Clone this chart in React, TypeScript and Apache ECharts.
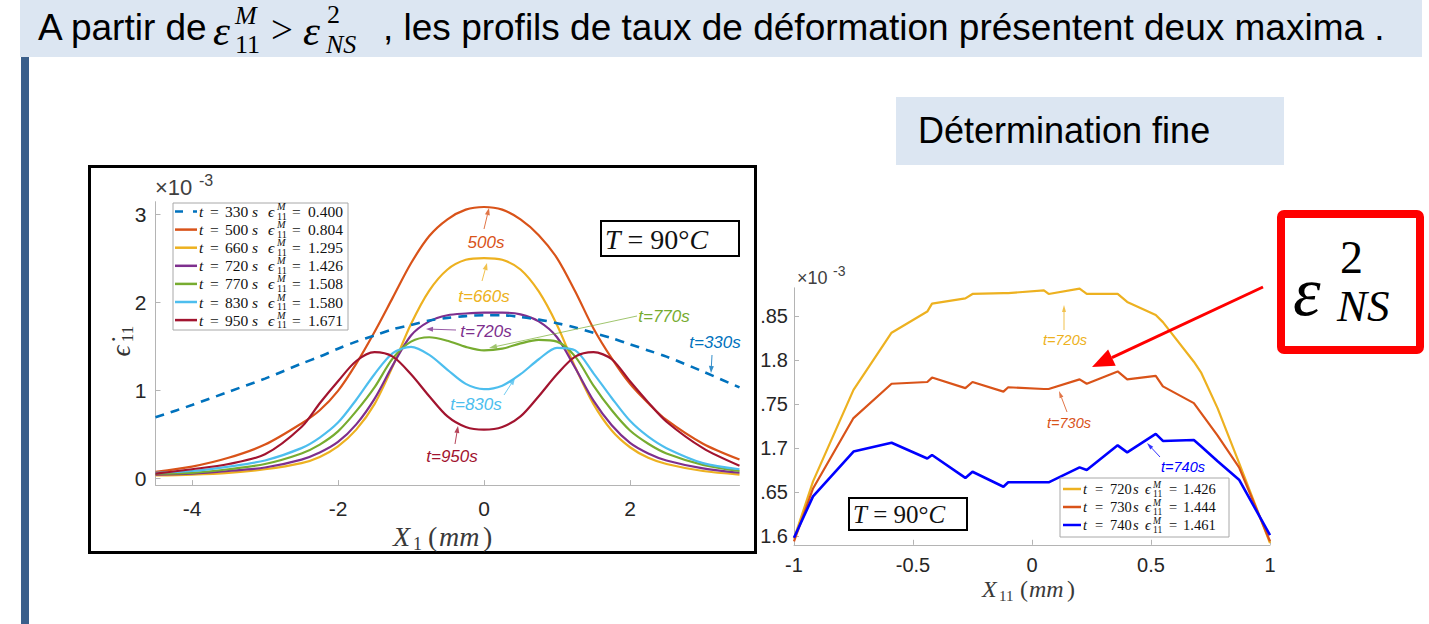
import React, { useEffect, useRef } from "react";
import * as echarts from "echarts";

// ---------- data: left chart (strain-rate profiles, x1e-3) ----------
const profileX = [-4.5, -4, -3.5, -3, -2.5, -2.25, -2, -1.75, -1.5, -1.25, -1, -0.75, -0.5, -0.25, 0, 0.25, 0.5, 0.75, 1, 1.25, 1.5, 1.75, 2, 2.25, 2.5, 3, 3.5];
const rate330 = [0.69, 0.83, 0.98, 1.13, 1.3, 1.38, 1.47, 1.55, 1.62, 1.69, 1.74, 1.79, 1.82, 1.84, 1.85, 1.85, 1.83, 1.8, 1.76, 1.71, 1.65, 1.59, 1.52, 1.45, 1.38, 1.21, 1.03];
const rate500 = [0.07, 0.13, 0.23, 0.38, 0.62, 0.77, 0.99, 1.3, 1.66, 2.05, 2.44, 2.75, 2.94, 3.05, 3.08, 3.05, 2.94, 2.76, 2.5, 2.12, 1.7, 1.36, 1.07, 0.85, 0.66, 0.39, 0.21];
const rate660 = [0.03, 0.04, 0.06, 0.1, 0.17, 0.24, 0.36, 0.55, 0.84, 1.27, 1.75, 2.13, 2.37, 2.48, 2.5, 2.48, 2.37, 2.12, 1.74, 1.26, 0.84, 0.54, 0.35, 0.23, 0.16, 0.08, 0.04];
const rate720 = [0.04, 0.05, 0.08, 0.12, 0.21, 0.29, 0.41, 0.61, 0.9, 1.28, 1.62, 1.78, 1.85, 1.87, 1.88, 1.88, 1.86, 1.78, 1.6, 1.25, 0.88, 0.6, 0.4, 0.28, 0.2, 0.11, 0.06];
const rate770 = [0.05, 0.06, 0.1, 0.16, 0.28, 0.38, 0.53, 0.76, 1.03, 1.36, 1.55, 1.6, 1.56, 1.49, 1.45, 1.47, 1.53, 1.57, 1.55, 1.38, 1.05, 0.77, 0.54, 0.39, 0.28, 0.15, 0.08];
const rate830 = [0.06, 0.08, 0.13, 0.2, 0.34, 0.46, 0.63, 0.89, 1.18, 1.42, 1.49, 1.4, 1.23, 1.07, 1.01, 1.05, 1.18, 1.35, 1.48, 1.45, 1.19, 0.91, 0.65, 0.47, 0.34, 0.17, 0.1];
const rate950 = [0.05, 0.1, 0.16, 0.27, 0.58, 0.85, 1.1, 1.33, 1.43, 1.38, 1.18, 0.93, 0.7, 0.58, 0.55, 0.58, 0.7, 0.93, 1.18, 1.38, 1.43, 1.35, 1.1, 0.86, 0.64, 0.34, 0.14];
const profileTimes = ["330", "500", "660", "720", "770", "830", "950"];
const profileStrain = ["0.400", "0.804", "1.295", "1.426", "1.508", "1.580", "1.671"];
const profileColors = ["#0072BD", "#D95319", "#EDB120", "#7E2F8E", "#77AC30", "#4DBEEE", "#A2142F"];
const profileXTicks = [-4, -2, 0, 2];
const profileYTicks = [0, 1, 2, 3];

// ---------- data: right chart (fine determination) ----------
const fineX = [-1.0, -0.92, -0.75, -0.59, -0.44, -0.42, -0.28, -0.25, -0.12, -0.1, 0.05, 0.07, 0.2, 0.23, 0.36, 0.4, 0.52, 0.55, 0.68, 0.71, 0.78, 0.87, 1.0];
const fine720 = [1.597, 1.662, 1.766, 1.831, 1.855, 1.864, 1.87, 1.875, 1.876, 1.876, 1.879, 1.875, 1.881, 1.875, 1.875, 1.866, 1.851, 1.843, 1.798, 1.786, 1.745, 1.683, 1.592];
const fine730 = [1.594, 1.654, 1.734, 1.773, 1.775, 1.78, 1.768, 1.775, 1.764, 1.769, 1.767, 1.767, 1.778, 1.773, 1.787, 1.778, 1.782, 1.77, 1.751, 1.74, 1.714, 1.678, 1.594];
const fine740 = [1.598, 1.645, 1.696, 1.706, 1.688, 1.692, 1.666, 1.673, 1.656, 1.661, 1.661, 1.661, 1.678, 1.675, 1.703, 1.695, 1.716, 1.708, 1.709, 1.702, 1.685, 1.664, 1.601];
const fineTimes = ["720", "730", "740"];
const fineStrain = ["1.426", "1.444", "1.461"];
const fineColors = ["#EDB120", "#D95319", "#0000FF"];
const fineYTicks = [1.6, 1.65, 1.7, 1.75, 1.8, 1.85];
const fineYTickText = ["1.6", ".65", "1.7", ".75", "1.8", ".85"];

const SERIF = "'Liberation Serif', 'DejaVu Serif', 'Times New Roman', serif";
const SANS = "'Liberation Sans', Arial, Helvetica, sans-serif";
const AXIS_GRAY = "#b4b4b4";
const TXT = "#262626";

type Any = any;

function t(x: number, y: number, text: string, size: number, opts: Any = {}): Any {
  return {
    type: "text",
    x,
    y,
    z: opts.z || 60,
    silent: true,
    style: {
      text,
      fontFamily: opts.family || SERIF,
      fontSize: size,
      fontStyle: opts.italic ? "italic" : "normal",
      fontWeight: opts.bold ? "bold" : "normal",
      fill: opts.color || "#111",
      align: opts.align || "left",
      verticalAlign: "middle",
      rich: opts.rich,
    },
  };
}

function arrow(x1: number, y1: number, x2: number, y2: number, color: string, lw: number, hl: number, hw: number, opacity = 1, z = 55): Any[] {
  const dx = x2 - x1;
  const dy = y2 - y1;
  const L = Math.hypot(dx, dy);
  const ux = dx / L;
  const uy = dy / L;
  const bx = x2 - ux * hl;
  const by = y2 - uy * hl;
  const px = -uy;
  const py = ux;
  return [
    { type: "line", z, silent: true, shape: { x1, y1, x2: bx, y2: by }, style: { stroke: color, lineWidth: lw, opacity } },
    {
      type: "polygon",
      z,
      silent: true,
      shape: { points: [[x2, y2], [bx + (px * hw) / 2, by + (py * hw) / 2], [bx - (px * hw) / 2, by - (py * hw) / 2]] },
      style: { fill: color, opacity },
    },
  ];
}

function legendRows(
  x0: number,
  y0: number,
  dy: number,
  times: string[],
  strains: string[],
  colors: string[],
  size: number,
  off: number[],
  dashedFirst: boolean
): Any[] {
  const els: Any[] = [];
  const small = size * 0.66;
  times.forEach((tm, i) => {
    const y = y0 + i * dy;
    els.push({
      type: "line",
      z: 60,
      silent: true,
      shape: { x1: x0, y1: y, x2: x0 + off[0], y2: y },
      style: { stroke: colors[i], lineWidth: 2.5, lineDash: dashedFirst && i === 0 ? [8, 10] : null },
    });
    els.push(t(x0 + off[1], y, "t", size, { italic: true }));
    els.push(t(x0 + off[2], y, "=", size));
    els.push(t(x0 + off[3], y, tm, size));
    els.push(t(x0 + off[4], y, "s", size, { italic: true }));
    els.push(t(x0 + off[5], y, "ϵ", size, { italic: true }));
    els.push(t(x0 + off[6], y - size * 0.32, "M", small, { italic: true }));
    els.push(t(x0 + off[6], y + size * 0.3, "11", small));
    els.push(t(x0 + off[7], y, "=", size));
    els.push(t(x0 + off[8], y, strains[i], size));
  });
  return els;
}

export default function App() {
  const ref = useRef<HTMLDivElement>(null);

  useEffect(() => {
    document.body.style.margin = "0";
    if (!ref.current) return;
    const chart = echarts.init(ref.current, undefined, { renderer: "svg" });

    const leftSeriesData = [rate330, rate500, rate660, rate720, rate770, rate830, rate950];
    const fineSeriesData = [fine720, fine730, fine740];

    const series: Any[] = [];
    leftSeriesData.forEach((arr, i) => {
      series.push({
        name: "t=" + profileTimes[i] + "s",
        type: "line",
        xAxisIndex: 0,
        yAxisIndex: 0,
        data: profileX.map((x, k) => [x, arr[k]]),
        smooth: 0.3,
        showSymbol: false,
        silent: true,
        z: i === 0 ? 3 : 2,
        lineStyle: { color: profileColors[i], width: i === 0 ? 2.6 : 2.2, type: i === 0 ? [9, 7] : "solid" },
      });
    });
    fineSeriesData.forEach((arr, i) => {
      series.push({
        name: "fine t=" + fineTimes[i] + "s",
        type: "line",
        xAxisIndex: 1,
        yAxisIndex: 1,
        data: fineX.map((x, k) => [x, arr[k]]),
        showSymbol: false,
        silent: true,
        lineStyle: { color: fineColors[i], width: i === 2 ? 2.6 : 2.2 },
      });
    });

    const italicRich = (size: number) => ({ i: { fontStyle: "italic", fontSize: size, fontFamily: SERIF, fill: "#111" } });

    const g: Any[] = [];
    // slide decorations
    g.push({ type: "rect", z: 1, silent: true, shape: { x: 20, y: 0, width: 1402, height: 57 }, style: { fill: "#dce6f2" } });
    g.push({ type: "rect", z: 1, silent: true, shape: { x: 21, y: 57, width: 8, height: 567 }, style: { fill: "#3a5f8b" } });
    // title
    g.push(t(38, 27, "A partir de", 37, { family: SANS, color: "#000" }));
    g.push(t(213, 30, "ε", 43, { italic: true, color: "#000" }));
    g.push(t(235, 15, "M", 26, { italic: true, color: "#000" }));
    g.push(t(235, 44, "11", 26, { color: "#000" }));
    g.push(t(271, 29, ">", 39, { color: "#000" }));
    g.push(t(303, 30, "ε", 43, { italic: true, color: "#000" }));
    g.push(t(327, 14, "2", 26, { color: "#000" }));
    g.push(t(326, 44, "NS", 26, { italic: true, color: "#000" }));
    g.push(t(383, 27, ", les profils de taux de déformation présentent deux maxima .", 37, { family: SANS, color: "#000" }));
    // Détermination fine
    g.push({ type: "rect", z: 1, silent: true, shape: { x: 896, y: 97, width: 388, height: 68 }, style: { fill: "#dce6f2" } });
    g.push(t(918, 130, "Détermination fine", 36, { family: SANS, color: "#000" }));

    // left chart frame
    g.push({ type: "rect", z: 40, silent: true, shape: { x: 89.5, y: 166.5, width: 666, height: 386 }, style: { fill: "none", stroke: "#000", lineWidth: 3 } });
    g.push(t(155, 187, "×10", 22, { family: SANS, color: "#404040" }));
    g.push(t(199, 180, "-3", 16, { family: SANS, color: "#404040" }));
    // y label (rotated)
    g.push({
      type: "group",
      x: 121,
      y: 344,
      rotation: Math.PI / 2,
      z: 60,
      children: [t(-7, 0, "ϵ̇", 27, { italic: true, color: "#333", align: "center" }), t(10, 6, "11", 17, { color: "#333", align: "center" })],
    });
    // x label
    g.push(t(393, 536, "X", 28, { italic: true, color: "#3a3a3a" }));
    g.push(t(413, 544, "1", 18, { color: "#3a3a3a" }));
    g.push(t(428, 536, "(", 28, { color: "#3a3a3a" }));
    g.push(t(439, 536, "mm", 28, { italic: true, color: "#3a3a3a" }));
    g.push(t(483, 536, ")", 28, { color: "#3a3a3a" }));
    // left legend
    g.push({ type: "rect", z: 58, silent: true, shape: { x: 173, y: 203, width: 175, height: 127 }, style: { fill: "#fff", stroke: "#a8a8a8", lineWidth: 1 } });
    g.push(...legendRows(175, 211.5, 18.1, profileTimes, profileStrain, profileColors, 15.5, [22, 24, 35, 50, 77, 93, 102, 117, 133], true));
    // T = 90°C box left
    g.push({ type: "rect", z: 58, silent: true, shape: { x: 601, y: 221, width: 138, height: 35 }, style: { fill: "#fff", stroke: "#000", lineWidth: 2 } });
    g.push(t(605, 239, "{i|T} = 90°{i|C}", 28, { rich: italicRich(28) }));
    // left annotations
    const ann = (x: number, y: number, s: string, c: string, size = 17) => t(x, y, s, size, { family: SANS, italic: true, color: c, align: "center" });
    g.push(ann(486, 242, "500s", profileColors[1]));
    g.push(...arrow(484, 229, 489, 208, profileColors[1], 1, 7, 5, 0.8));
    g.push(ann(484, 296, "t=660s", profileColors[2]));
    g.push(...arrow(482, 281, 487, 263, profileColors[2], 1, 7, 5, 0.8));
    g.push(ann(486, 331, "t=720s", profileColors[3]));
    g.push(...arrow(456, 330, 426, 329, profileColors[3], 1, 7, 5, 0.8));
    g.push(ann(664, 316, "t=770s", profileColors[4]));
    g.push(...arrow(637, 316, 489, 348, profileColors[4], 1, 8, 5, 0.7));
    g.push(ann(715, 342, "t=330s", profileColors[0]));
    g.push(...arrow(712, 355, 711, 373, profileColors[0], 1, 7, 5, 0.8));
    g.push(ann(476, 404, "t=830s", profileColors[5]));
    g.push(...arrow(504, 395, 515, 378, profileColors[5], 1, 7, 5, 0.8));
    g.push(ann(452, 456, "t=950s", profileColors[6]));
    g.push(...arrow(455, 444, 458, 426, profileColors[6], 1, 7, 5, 0.8));

    // right chart decorations
    g.push(t(797, 278, "×10", 18, { family: SANS, color: "#404040" }));
    g.push(t(833, 271, "-3", 14, { family: SANS, color: "#404040" }));
    g.push(t(982, 589, "X", 24, { italic: true, color: "#3a3a3a" }));
    g.push(t(999, 596, "11", 15, { color: "#3a3a3a" }));
    g.push(t(1020, 589, "(", 24, { color: "#3a3a3a" }));
    g.push(t(1029, 589, "mm", 24, { italic: true, color: "#3a3a3a" }));
    g.push(t(1067, 589, ")", 24, { color: "#3a3a3a" }));
    g.push({ type: "rect", z: 58, silent: true, shape: { x: 1060, y: 478, width: 169, height: 59 }, style: { fill: "#fff", stroke: "#a8a8a8", lineWidth: 1 } });
    g.push(...legendRows(1063, 489, 18, fineTimes, fineStrain, fineColors, 14.5, [18, 20, 32, 47, 70, 82, 90, 106, 120], false));
    g.push({ type: "rect", z: 58, silent: true, shape: { x: 849, y: 498, width: 118, height: 32 }, style: { fill: "#fff", stroke: "#000", lineWidth: 2 } });
    g.push(t(853, 514, "{i|T} = 90°{i|C}", 25, { rich: italicRich(25) }));
    g.push(ann(1065, 340, "t=720s", fineColors[0], 14.5));
    g.push(...arrow(1064, 330, 1064, 305, fineColors[0], 1, 7, 4, 0.8));
    g.push(ann(1069, 423, "t=730s", fineColors[1], 14.5));
    g.push(...arrow(1067, 412, 1059, 391, fineColors[1], 1, 7, 4, 0.8));
    g.push(ann(1183, 467, "t=740s", fineColors[2], 14.5));
    g.push(...arrow(1160, 457, 1147, 443, fineColors[2], 1, 7, 4, 0.8));

    // red box + arrow
    g.push({ type: "rect", z: 62, silent: true, shape: { x: 1281, y: 214, width: 139, height: 136, r: 3 }, style: { fill: "#fff", stroke: "#ff0000", lineWidth: 8 } });
    g.push(t(1293, 291, "ε", 70, { italic: true, color: "#000", z: 66 }));
    g.push(t(1340, 257, "2", 46, { color: "#000", z: 66 }));
    g.push(t(1337, 306, "NS", 45, { italic: true, color: "#000", z: 66 }));
    g.push(...arrow(1263, 287, 1092, 367, "#ff0000", 3, 22, 18, 1, 66));

    const axisCommon = {
      axisLine: { show: true, onZero: false, lineStyle: { color: AXIS_GRAY, width: 1 } },
      splitLine: { show: false },
    };

    const option: Any = {
      animation: false,
      backgroundColor: "#ffffff",
      grid: [
        { left: 155.5, top: 201.7, width: 584, height: 283.4, containLabel: false, outerBoundsMode: "none" },
        { left: 794, top: 287.8, width: 476, height: 257, containLabel: false, outerBoundsMode: "none" },
      ],
      xAxis: [
        {
          type: "value",
          gridIndex: 0,
          min: -4.5,
          max: 3.5,
          ...axisCommon,
          axisTick: { show: true, inside: true, length: 5, customValues: profileXTicks, lineStyle: { color: AXIS_GRAY } },
          axisLabel: { customValues: profileXTicks, color: TXT, fontSize: 21, fontFamily: SANS, margin: 13 },
        },
        {
          type: "value",
          gridIndex: 1,
          min: -1,
          max: 1,
          interval: 0.5,
          ...axisCommon,
          axisTick: { show: true, inside: true, length: 5, lineStyle: { color: AXIS_GRAY } },
          axisLabel: { color: TXT, fontSize: 20, fontFamily: SANS, margin: 10, showMinLabel: true, showMaxLabel: true },
        },
      ],
      yAxis: [
        {
          type: "value",
          gridIndex: 0,
          min: -0.08,
          max: 3.14,
          ...axisCommon,
          axisTick: { show: true, inside: true, length: 5, customValues: profileYTicks, lineStyle: { color: AXIS_GRAY } },
          axisLabel: { customValues: profileYTicks, color: TXT, fontSize: 21, fontFamily: SANS, margin: 9 },
        },
        {
          type: "value",
          gridIndex: 1,
          min: 1.59,
          max: 1.882,
          ...axisCommon,
          axisTick: { show: true, inside: true, length: 5, customValues: fineYTicks, lineStyle: { color: AXIS_GRAY } },
          axisLabel: {
            customValues: fineYTicks,
            color: TXT,
            fontSize: 20,
            fontFamily: SANS,
            margin: 6,
            formatter: (v: number) => {
              const k = fineYTicks.findIndex((q) => Math.abs(q - v) < 1e-6);
              return k >= 0 ? fineYTickText[k] : "";
            },
          },
        },
      ],
      series,
      graphic: { elements: g },
    };

    chart.setOption(option);
    return () => chart.dispose();
  }, []);

  return <div ref={ref} style={{ width: 1429, height: 624, background: "#fff" }} />;
}
